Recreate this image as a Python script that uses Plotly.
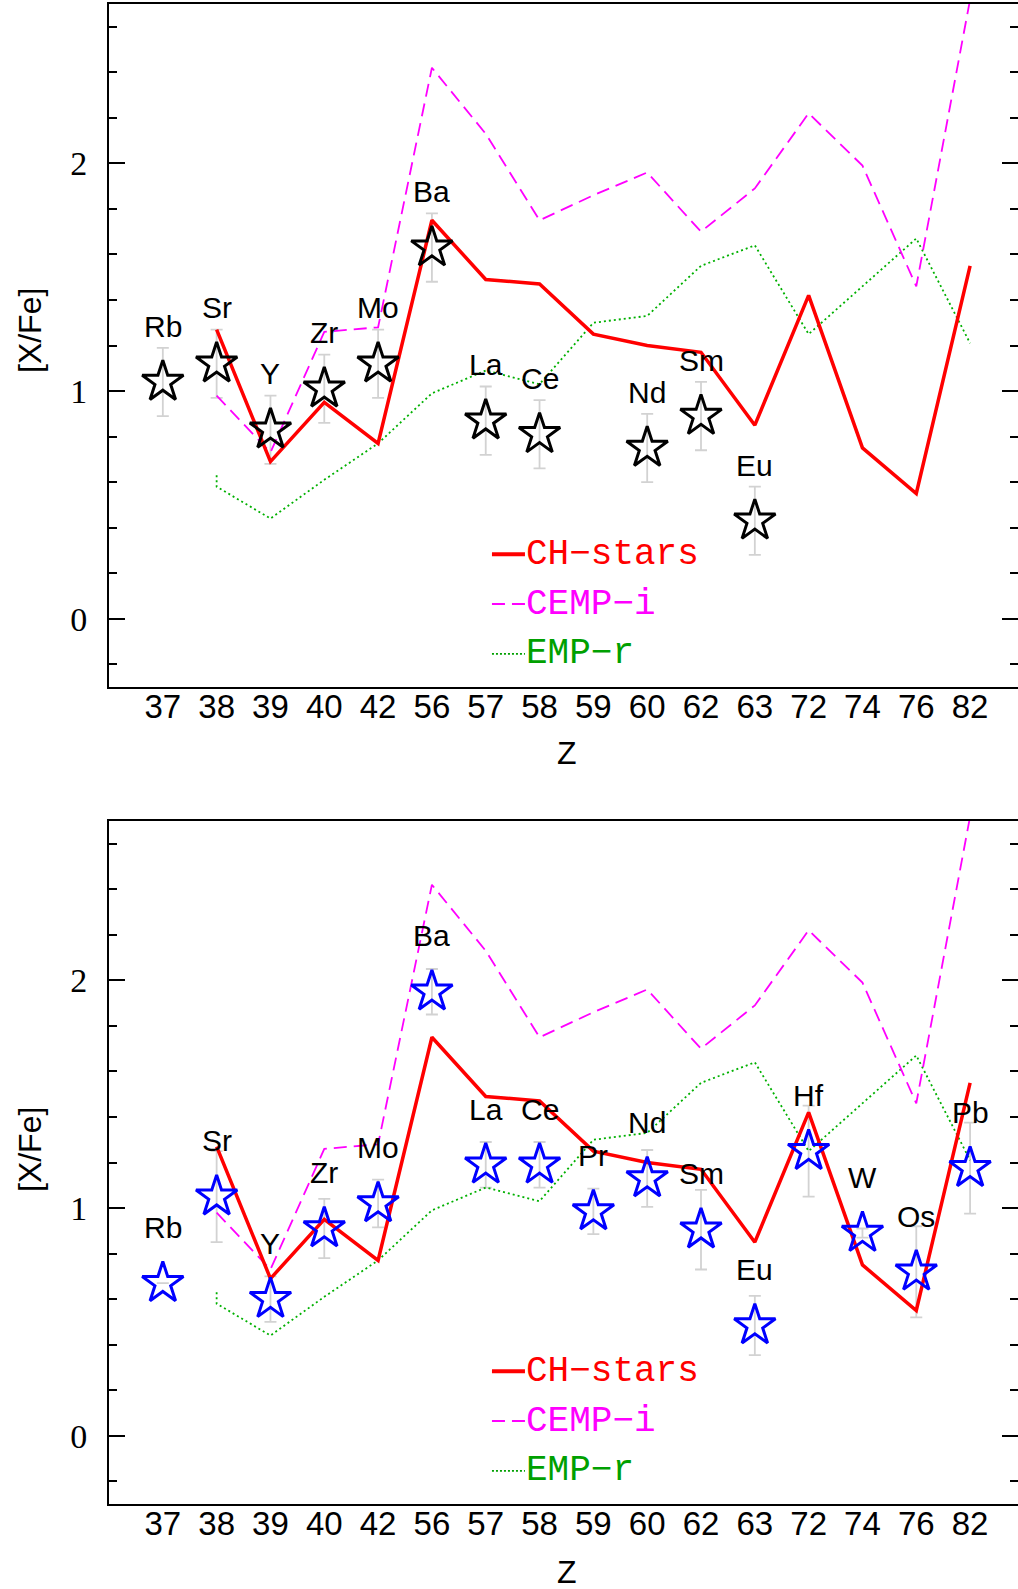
import plotly.graph_objects as go

# ---------------- data ----------------
categories = ["37", "38", "39", "40", "42", "56", "57", "58", "59", "60",
              "62", "63", "72", "74", "76", "82"]

# model curves (same in both panels)
ch_z = ["38", "39", "40", "42", "56", "57", "58", "59", "60", "62", "63", "72", "74", "76", "82"]
ch_stars = [1.27, 0.69, 0.95, 0.77, 1.75, 1.49, 1.47, 1.25, 1.20, 1.17, 0.85, 1.42, 0.75, 0.55, 1.55]

cemp_z = ["38", "39", "40", "42", "56", "57", "58", "59", "60", "62", "63", "72", "74", "76", "82"]
cemp_i = [0.98, 0.73, 1.26, 1.28, 2.42, 2.13, 1.75, 1.86, 1.96, 1.70, 1.89, 2.22, 1.99, 1.46, 2.72]

empr_z = ["38", "38", "39", "40", "42", "56", "57", "58", "59", "60", "62", "63", "72", "74", "76", "82"]
emp_r = [0.63, 0.58, 0.44, 0.61, 0.77, 0.99, 1.09, 1.03, 1.30, 1.33, 1.55, 1.64, 1.25, 1.46, 1.67, 1.21]

# star 1 (top panel)
top_z = ["37", "38", "39", "40", "42", "56", "57", "58", "60", "62", "63"]
top_el = ["Rb", "Sr", "Y", "Zr", "Mo", "Ba", "La", "Ce", "Nd", "Sm", "Eu"]
top_val = [1.04, 1.12, 0.83, 1.01, 1.12, 1.63, 0.87, 0.81, 0.75, 0.89, 0.43]
top_err = [0.15, 0.15, 0.15, 0.15, 0.15, 0.15, 0.15, 0.15, 0.15, 0.15, 0.15]

# star 2 (bottom panel)
bot_z = ["37", "38", "39", "40", "42", "56", "57", "58", "59", "60", "62", "63", "72", "74", "76", "82"]
bot_el = ["Rb", "Sr", "Y", "Zr", "Mo", "Ba", "La", "Ce", "Pr", "Nd", "Sm", "Eu", "Hf", "W", "Os", "Pb"]
bot_val = [0.67, 1.05, 0.60, 0.91, 1.02, 1.95, 1.19, 1.19, 0.985, 1.13, 0.905, 0.484, 1.25, 0.89, 0.72, 1.175]
bot_err = [0.0, 0.20, 0.10, 0.13, 0.105, 0.10, 0.10, 0.10, 0.10, 0.125, 0.175, 0.13, 0.20, 0.02, 0.20, 0.20]

legend_names = ["CH\u2212stars", "CEMP\u2212i", "EMP\u2212r"]
legend_colors = ["#ff0000", "#ff00ff", "#00a000"]

# ---------------- styles ----------------
RED = "#ff0000"
MAG = "#ff00ff"
GRN = "#00b000"
SANS = "Liberation Sans"
SERIF = "Liberation Serif"
MONO = "Liberation Mono"
LABEL_OFF = 0.245

fig = go.Figure()


def add_panel(xa, ya, zs, vals, errs, els, star_color):
    # error bars underneath everything
    fig.add_trace(go.Scatter(
        x=zs, y=vals, mode="markers", xaxis=xa, yaxis=ya,
        marker=dict(size=1, opacity=0),
        error_y=dict(type="data", array=errs, visible=True, color="#d2d2d2",
                     thickness=1.8, width=6),
        showlegend=False, hoverinfo="skip"))
    fig.add_trace(go.Scatter(
        x=empr_z, y=emp_r, mode="lines", xaxis=xa, yaxis=ya,
        line=dict(color=GRN, width=1.8, dash="2px,3px"), showlegend=False))
    fig.add_trace(go.Scatter(
        x=cemp_z, y=cemp_i, mode="lines", xaxis=xa, yaxis=ya,
        line=dict(color=MAG, width=1.8, dash="13px,7px"), showlegend=False))
    fig.add_trace(go.Scatter(
        x=ch_z, y=ch_stars, mode="lines", xaxis=xa, yaxis=ya,
        line=dict(color=RED, width=3.5), showlegend=False))
    fig.add_trace(go.Scatter(
        x=zs, y=vals, mode="markers", xaxis=xa, yaxis=ya,
        marker=dict(symbol="star-open", size=31, color=star_color,
                    line=dict(color=star_color, width=3)),
        showlegend=False))
    for z, v, el in zip(zs, vals, els):
        fig.add_annotation(x=categories.index(z), y=v + LABEL_OFF, xref=xa, yref=ya,
                           text=el, showarrow=False, xanchor="center", yanchor="middle",
                           font=dict(family=SANS, size=30, color="black"))
    # legend
    rows = [0.1945, 0.1215, 0.0485]
    dashes = ["solid", "13px,7px", "2px,2px"]
    widths = [4, 2, 1.8]
    for name, col, ry, dsh, w in zip(legend_names, legend_colors, rows, dashes, widths):
        fig.add_shape(type="line", xref=xa + " domain", yref=ya + " domain",
                      x0=0.4213, x1=0.4576, y0=ry, y1=ry,
                      line=dict(color=col, width=w, dash=dsh))
        fig.add_annotation(x=0.457, y=ry, xref=xa + " domain", yref=ya + " domain",
                           text=name, showarrow=False, xanchor="left", yanchor="middle",
                           font=dict(family=MONO, size=36, color=col))


add_panel("x", "y", top_z, top_val, top_err, top_el, "black")
add_panel("x2", "y2", bot_z, bot_val, bot_err, bot_el, "#0000ff")

xdom = [109 / 1018, 1.0]
H = 1589
top_dom = [1 - 687 / H, 1 - 4 / H]
bot_dom = [1 - 1504 / H, 1 - 821 / H]

xaxis_style = dict(
    type="category", categoryorder="array", categoryarray=categories,
    range=[-1, 15.89], domain=xdom, showline=True, linecolor="black", linewidth=2,
    mirror=True, ticks="", showgrid=False, zeroline=False, automargin=False,
    tickfont=dict(family=SANS, size=33, color="black"), ticklabelstandoff=-11)
yaxis_style = dict(
    range=[-0.3, 2.7], showline=True, linecolor="black", linewidth=2, mirror="ticks",
    ticks="inside", ticklen=16, tickwidth=1.5, tickcolor="black",
    tick0=0, dtick=1, showgrid=False, zeroline=False, automargin=False,
    minor=dict(dtick=0.2, tick0=0, ticks="inside", ticklen=8, tickwidth=1.5, tickcolor="black",
               showgrid=False),
    tickfont=dict(family=SERIF, size=34, color="black"), ticklabelstandoff=13)

fig.update_layout(
    width=1018, height=1589,
    margin=dict(l=0, r=0, t=0, b=0, pad=0, autoexpand=False),
    paper_bgcolor="white", plot_bgcolor="white", showlegend=False,
    xaxis=dict(xaxis_style, anchor="y"),
    yaxis=dict(yaxis_style, domain=top_dom, anchor="x"),
    xaxis2=dict(xaxis_style, anchor="y2"),
    yaxis2=dict(yaxis_style, domain=bot_dom, anchor="x2"),
)

for yc in [1 - 773 / H, 1 - 1592 / H]:
    fig.add_annotation(x=567 / 1018, y=yc, xref="paper", yref="paper", text="Z",
                       showarrow=False, xanchor="center", yanchor="bottom",
                       font=dict(family=SANS, size=32, color="black"))
for yc in [1 - 331 / H, 1 - 1150 / H]:
    fig.add_annotation(x=30 / 1018, y=yc, xref="paper", yref="paper", text="[X/Fe]",
                       showarrow=False, textangle=-90, xanchor="center", yanchor="middle",
                       font=dict(family=SANS, size=32, color="black"))

fig.write_html(
    "out.html",
    config={"displayModeBar": False},
    post_script="document.body.style.margin='0';document.body.style.padding='0';"
                "document.documentElement.style.overflow='hidden';")
